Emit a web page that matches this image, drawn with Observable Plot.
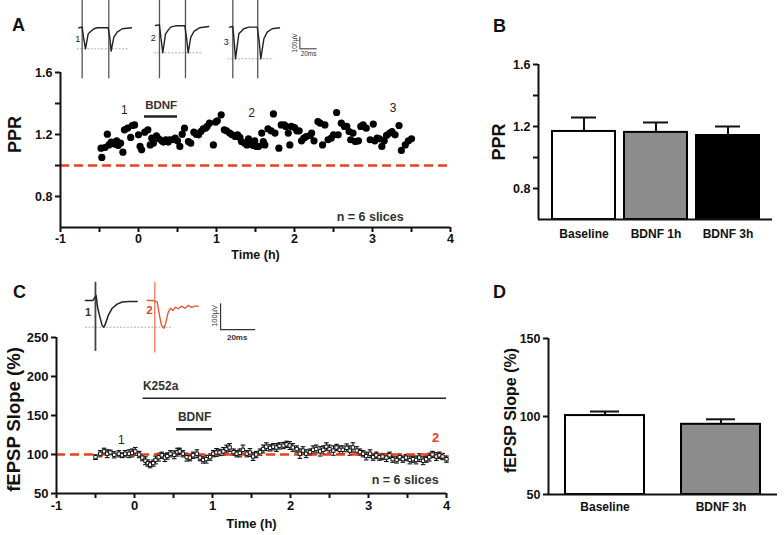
<!DOCTYPE html>
<html><head><meta charset="utf-8">
<script src="https://cdn.jsdelivr.net/npm/d3@7"></script>
<script src="https://cdn.jsdelivr.net/npm/@observablehq/plot@0.6"></script>
<style>
body{margin:0;background:#fff;}
#fig{position:relative;width:784px;height:535px;overflow:hidden;font-family:"Liberation Sans",Arial,sans-serif;}
.panel{position:absolute;}
.letter{position:absolute;font-weight:bold;font-size:18px;line-height:18px;color:#111;}
</style></head><body><div id="fig"></div>
<script>
// ---------- Panel A: PPR over time ----------
const timesA = [-0.48,-0.47,-0.43,-0.40,-0.38,-0.35,-0.31,-0.28,-0.26,-0.23,
 -0.20,-0.18,-0.14,-0.10,-0.08,-0.05,0.00,0.02,0.04,0.08,
 0.12,0.15,0.17,0.19,0.23,0.26,0.30,0.32,0.35,0.38,
 0.40,0.44,0.47,0.50,0.53,0.56,0.59,0.64,0.67,0.71,
 0.74,0.77,0.80,0.83,0.86,0.88,0.91,0.96,0.99,1.01,
 1.06,1.10,1.13,1.17,1.20,1.24,1.27,1.30,1.32,1.36,
 1.39,1.41,1.44,1.47,1.49,1.51,1.54,1.58,1.60,1.62,
 1.66,1.70,1.73,1.75,1.80,1.83,1.87,1.89,1.92,1.94,
 1.96,2.00,2.03,2.06,2.09,2.12,2.15,2.20,2.22,2.25,
 2.30,2.33,2.36,2.39,2.43,2.47,2.50,2.54,2.56,2.60,
 2.64,2.67,2.70,2.72,2.75,2.78,2.82,2.85,2.88,2.92,
 2.97,3.01,3.03,3.06,3.09,3.12,3.15,3.18,3.22,3.25,
 3.29,3.34,3.37,3.42,3.46,3.50];
const pprA = [1.112,1.052,1.116,1.202,1.133,1.151,1.138,1.159,1.129,1.144,
 1.086,1.230,1.241,1.181,1.258,1.262,1.198,1.123,1.101,1.215,
 1.230,1.133,1.176,1.144,1.191,1.172,1.159,1.151,1.166,1.151,
 1.166,1.166,1.176,1.159,1.123,1.202,1.241,1.155,1.144,1.215,
 1.202,1.198,1.219,1.237,1.241,1.252,1.273,1.133,1.280,1.288,
 1.327,1.230,1.224,1.209,1.198,1.187,1.198,1.181,1.155,1.144,
 1.133,1.172,1.138,1.129,1.159,1.123,1.123,1.209,1.155,1.133,
 1.237,1.224,1.333,1.209,1.112,1.262,1.262,1.252,1.209,1.133,
 1.252,1.245,1.224,1.224,1.159,1.176,1.187,1.194,1.209,1.159,
 1.284,1.273,1.133,1.262,1.166,1.176,1.198,1.342,1.198,1.273,
 1.252,1.252,1.219,1.166,1.209,1.155,1.159,1.252,1.262,1.241,
 1.166,1.267,1.159,1.176,1.172,1.123,1.159,1.194,1.209,1.219,
 1.198,1.258,1.097,1.133,1.159,1.172];

// ---------- Panel C: fEPSP slope over time ----------
const timesC = [-0.50,-0.44,-0.39,-0.35,-0.31,-0.26,-0.20,-0.16,-0.12,-0.07,
 -0.03,0.01,0.06,0.10,0.14,0.17,0.20,0.24,0.27,0.31,
 0.35,0.39,0.42,0.46,0.51,0.55,0.58,0.62,0.67,0.71,
 0.75,0.80,0.84,0.88,0.92,0.97,1.01,1.05,1.09,1.14,
 1.18,1.22,1.27,1.31,1.35,1.39,1.44,1.48,1.52,1.56,
 1.61,1.65,1.69,1.74,1.78,1.82,1.86,1.91,1.95,1.99,
 2.03,2.08,2.12,2.16,2.20,2.25,2.29,2.33,2.38,2.42,
 2.46,2.50,2.55,2.59,2.63,2.67,2.72,2.76,2.80,2.85,
 2.89,2.93,2.97,3.02,3.06,3.10,3.14,3.18,3.23,3.27,
 3.31,3.36,3.40,3.44,3.48,3.53,3.57,3.61,3.65,3.70,
 3.74,3.78,3.82,3.87,3.91,3.95,4.00];
const slopeC = [96.6,101,104,101,102.6,99.6,101,99,101,101,
 102,104,100,96,92,89,87,89,93,96.6,
 99,96,98,101,99.6,103,104,101,96.6,96,
 99,101,96,93,94,96.6,101,102.6,102.6,104,
 107,109,103,101,102,106,101,102.6,97.4,100,
 103,107,110,108.5,110,109,111,111.5,113,111.5,
 109,107,101,105,101,103,106,107,104,106,
 110,107,105,109,106,106,108.5,105,109,105,
 103,101,98,101,96.6,99,96.6,97.4,96,99,
 94,93,96.6,94,96,93,94,93,96,92,
 94,96.6,100,97.4,99,97.4,94];
const semC = [3,4,4,5,3,4,4,3,4,5, 5,5,4,4,5,4,4,4,5,5, 4,5,4,4,5,5,4,4,5,4,
 4,5,4,4,5,4,4,5,4,5, 5,5,4,4,5,6,4,5,5,4, 4,5,5,4,4,5,4,4,4,5,
 5,4,6,5,5,4,5,5,6,5, 5,5,6,4,5,5,5,6,6,5, 4,4,5,5,4,4,4,4,5,4,
 4,4,4,4,4,5,4,5,5,5, 4,5,4,5,4,4,4];

// ---------- Panels B and D: bars ----------
const barCatsB = ["Baseline","BDNF 1h","BDNF 3h"];
const barMeansB = [1.168,1.162,1.142];
const barSemB = [0.090,0.064,0.058];
const barCatsD = ["Baseline","BDNF 3h"];
const barMeansD = [100.6,95.0];
const barSemD = [2.6,3.2];

// ---------- Ticks ----------
const timeTicks = [-1,-0.5,0,0.5,1,1.5,2,2.5,3,3.5,4];
const pprTicks = [0.8,1.0,1.2,1.4,1.6];
const pprTickLabels = [0.8,1.2,1.6];
const slopeTicksC = [50,100,150,200,250];
const slopeTicksD = [50,100,150];

// ---------- Inset traces A (ms, µV) ----------
const trA1Ms = [3.7,7.4,8.9,11.1,14.1,20.4,24.1,36.3,38.1,39.6,42.6,46.3,51.9,62.2];
const trA1Uv = [-3,3,-88,-194,-58,-12,-3,-3,-88,-215,-88,-42,-12,-3];
const trA2Ms = [88.9,93.3,94.8,97.0,100.0,105.6,111.1,121.5,123.3,125.2,128.1,131.9,137.8,148.1];
const trA2Uv = [18,24,-88,-230,-58,3,15,15,-88,-230,-88,-33,-3,9];
const trA3Ms = [171.1,174.8,176.3,177.8,181.5,187.0,192.6,202.0,204.1,205.9,209.3,213.0,218.5,226.7];
const trA3Uv = [3,9,-127,-285,-58,-12,3,3,-127,-285,-103,-42,-12,-3];
const artifactsA = [7.4,37.0,93.3,122.2,174.8,202.5];
const peaksA = [-194,-230,-285];
// ---------- Inset traces C ----------
const trC1Ms = [5.7,9.9,11.8,12.6,13.7,15.2,16.2,17.1,18.7,21.0,23.8,26.7,30.5,35.2];
const trC1Uv = [0,0,19,-26,-58,-97,-104,-91,-58,-30,-14,-6,-4,-4];
const trC2Ms = [41.0,44.2,46.7,48.0,49.1,50.5,51.4,53.0,54.3,55.6,57.1,58.7,60.6,62.5,64.4,66.3,68.2,70.1];
const trC2Uv = [0,0,-6,-58,-97,-108,-91,-45,-30,-39,-26,-32,-22,-30,-19,-27,-22,-22];

const FONT = '"Liberation Sans", Arial, Helvetica, sans-serif';
const RED = "#e8401c";
const baseStyle = {fontFamily: FONT, fontSize: "12px", fontWeight: "bold", color: "#111", background: "transparent", overflow: "visible"};
const fmtTime = d => Number.isInteger(d) ? String(d) : "";
const fmtPPR = d => pprTickLabels.includes(d) ? d.toFixed(1) : "";
const zip = (xs, ys) => xs.map((x, i) => ({x, y: ys[i]}));
const fig = document.getElementById("fig");
function place(node, left, top) {
  const d = document.createElement("div");
  d.className = "panel"; d.style.left = left + "px"; d.style.top = top + "px";
  d.appendChild(node); fig.appendChild(d);
}
function letter(t, left, top) {
  const d = document.createElement("div");
  d.className = "letter"; d.textContent = t; d.style.left = left + "px"; d.style.top = top + "px";
  fig.appendChild(d);
}
const capSymbol = {draw(ctx, size) { const r = Math.sqrt(size / Math.PI); ctx.moveTo(-r, 0); ctx.lineTo(r, 0); }};

// ===== Panel A =====
const dataA = timesA.map((t, i) => ({t, v: pprA[i]}));
const plotA = Plot.plot({
  width: 460, height: 265, marginLeft: 60, marginRight: 10, marginTop: 72, marginBottom: 38,
  x: {domain: [-1, 4]}, y: {domain: [0.6, 1.6]}, style: baseStyle,
  marks: [
    Plot.ruleY([1.0], {stroke: RED, strokeWidth: 2.5, strokeDasharray: "9,5"}),
    Plot.axisX({ticks: timeTicks, tickFormat: fmtTime, tickSize: 5, tickPadding: 2, strokeWidth: 2, label: null, fontSize: 12.5}),
    Plot.axisY({ticks: pprTicks, tickFormat: fmtPPR, tickSize: 5, tickPadding: 3, strokeWidth: 2, label: null, fontSize: 12.5}),
    Plot.ruleX([-1], {strokeWidth: 2}),
    Plot.ruleY([0.6], {strokeWidth: 2}),
    Plot.dot(dataA, {x: "t", y: "v", r: 3.6, fill: "#000", stroke: "none"}),
    Plot.ruleY([1.316], {x1: 0.077, x2: 0.5, strokeWidth: 2.5, stroke: "#222"}),
    Plot.text(["BDNF"], {x: 0.29, y: 1.39, text: d => d, fontSize: 11.5, fontWeight: "bold", fill: "#333"}),
    Plot.text(["1"], {x: -0.18, y: 1.36, text: d => d, fontSize: 12, fontWeight: "normal", fill: "#222"}),
    Plot.text(["2"], {x: 1.45, y: 1.34, text: d => d, fontSize: 12, fontWeight: "normal", fill: "#222"}),
    Plot.text(["3"], {x: 3.265, y: 1.37, text: d => d, fontSize: 12, fontWeight: "normal", fill: "#222"}),
    Plot.text(["n = 6 slices"], {x: 2.97, y: 0.665, text: d => d, fontSize: 12.5, fill: "#333"}),
    Plot.text(["Time (h)"], {frameAnchor: "bottom", dy: 31, text: d => d, fontSize: 12.5}),
    Plot.text(["PPR"], {x: -1, y: 1.2, dx: -45, rotate: -90, textAnchor: "middle", text: d => d, fontSize: 18})
  ]
});
place(plotA, 0, 0);

// ===== Inset A =====
const insetA = Plot.plot({
  width: 260, height: 80, margin: 0,
  x: {domain: [0, 288.9], axis: null}, y: {domain: [-482, 245], axis: null},
  style: {...baseStyle, fontWeight: "normal"},
  marks: [
    Plot.ruleY([peaksA[0]], {x1: 1.9, x2: 58.5, stroke: "#999", strokeWidth: 0.8, strokeDasharray: "2,1.5"}),
    Plot.ruleY([peaksA[1]], {x1: 87.8, x2: 141, stroke: "#999", strokeWidth: 0.8, strokeDasharray: "2,1.5"}),
    Plot.ruleY([peaksA[2]], {x1: 169.6, x2: 220.4, stroke: "#999", strokeWidth: 0.8, strokeDasharray: "2,1.5"}),
    Plot.ruleX(artifactsA, {y1: -466, y2: 245, stroke: "#555", strokeWidth: 1.3}),
    Plot.line(zip(trA1Ms, trA1Uv), {x: "x", y: "y", stroke: "#222", strokeWidth: 1.4}),
    Plot.line(zip(trA2Ms, trA2Uv), {x: "x", y: "y", stroke: "#222", strokeWidth: 1.4}),
    Plot.line(zip(trA3Ms, trA3Uv), {x: "x", y: "y", stroke: "#222", strokeWidth: 1.4}),
    Plot.text(["1"], {x: 2.6, y: -103, text: d => d, fontSize: 9, fill: "#222"}),
    Plot.text(["2"], {x: 86.3, y: -94, text: d => d, fontSize: 9, fill: "#222"}),
    Plot.text(["3"], {x: 167.4, y: -133, text: d => d, fontSize: 9, fill: "#222"}),
    Plot.ruleX([249.3], {y1: -194, y2: -88, stroke: "#333", strokeWidth: 1}),
    Plot.ruleY([-194], {x1: 249.3, x2: 268.5, stroke: "#333", strokeWidth: 1}),
    Plot.text(["100µV"], {x: 244, y: -141, rotate: -90, text: d => d, fontSize: 6.5, fill: "#333"}),
    Plot.text(["20ms"], {x: 259, y: -236, text: d => d, fontSize: 6.5, fill: "#333"})
  ]
});
place(insetA, 75, 0);

// ===== Panel B =====
const dataB = barCatsB.map((c, i) => ({c, m: barMeansB[i], e: barSemB[i]}));
const plotB = Plot.plot({
  width: 304, height: 265, marginLeft: 58, marginRight: 12, marginTop: 64, marginBottom: 46,
  x: {domain: barCatsB, paddingInner: 0.13, paddingOuter: 0.17},
  y: {domain: [0.6, 1.6], axis: null},
  color: {domain: barCatsB, range: ["#ffffff", "#8c8c8c", "#000000"]},
  style: baseStyle,
  marks: [
    Plot.ruleX(dataB, {x: "c", y1: "m", y2: d => d.m + d.e, strokeWidth: 2}),
    Plot.tickY(dataB, {x: "c", y: d => d.m + d.e, strokeWidth: 2, insetLeft: 19, insetRight: 19}),
    Plot.barY(dataB, {x: "c", y1: 0.6, y2: "m", fill: "c", stroke: "#000", strokeWidth: 2}),
    Plot.axisX({tickSize: 0, tickPadding: 10, label: null, fontSize: 12}),
    Plot.ruleY([0.6], {strokeWidth: 2})
  ]
});
place(plotB, 480, 0);
// y axis overlay for B (same frame, linear x)
const axisB = Plot.plot({
  width: 304, height: 265, marginLeft: 58, marginRight: 12, marginTop: 64, marginBottom: 46,
  x: {domain: [0, 1], axis: null}, y: {domain: [0.6, 1.6]}, style: baseStyle,
  marks: [
    Plot.ruleX([0], {strokeWidth: 2}),
    Plot.axisY({ticks: pprTicks, tickFormat: fmtPPR, tickSize: 5, tickPadding: 3, strokeWidth: 2, label: null, fontSize: 12.5}),
    Plot.text(["PPR"], {frameAnchor: "left", dx: -39, rotate: -90, textAnchor: "middle", text: d => d, fontSize: 18})
  ]
});
place(axisB, 480, 0);

// ===== Panel C =====
const dataC = timesC.map((t, i) => ({t, v: slopeC[i], e: semC[i]}));
const plotC = Plot.plot({
  width: 460, height: 270, marginLeft: 56, marginRight: 14, marginTop: 72, marginBottom: 42,
  x: {domain: [-1, 4]}, y: {domain: [50, 250]}, style: baseStyle,
  marks: [
    Plot.ruleX(dataC, {x: "t", y1: d => d.v - d.e, y2: d => d.v + d.e, strokeWidth: 1.1, stroke: "#111"}),
    Plot.dot(dataC, {x: "t", y: d => d.v + d.e, symbol: capSymbol, r: 2.3, stroke: "#111", strokeWidth: 1.1, fill: "none"}),
    Plot.dot(dataC, {x: "t", y: d => d.v - d.e, symbol: capSymbol, r: 2.3, stroke: "#111", strokeWidth: 1.1, fill: "none"}),
    Plot.ruleY([100], {stroke: RED, strokeWidth: 2.5, strokeDasharray: "9,5"}),
    Plot.dot(dataC, {x: "t", y: "v", symbol: "square", r: 1.9, stroke: "#111", strokeWidth: 1, fill: "#fff"}),
    Plot.axisX({ticks: timeTicks, tickFormat: fmtTime, tickSize: 5, tickPadding: 2, strokeWidth: 2, label: null, fontSize: 13}),
    Plot.axisY({ticks: slopeTicksC, tickSize: 5, tickPadding: 3, strokeWidth: 2, label: null, fontSize: 13}),
    Plot.ruleX([-1], {strokeWidth: 2}),
    Plot.ruleY([50], {strokeWidth: 2}),
    Plot.ruleY([172], {x1: 0.11, x2: 4, strokeWidth: 1.5, stroke: "#222"}),
    Plot.text(["K252a"], {x: 0.335, y: 188, text: d => d, fontSize: 12, fill: "#333"}),
    Plot.ruleY([132.5], {x1: 0.54, x2: 1.0, strokeWidth: 2.5, stroke: "#222"}),
    Plot.text(["BDNF"], {x: 0.77, y: 148, text: d => d, fontSize: 12, fill: "#333"}),
    Plot.text(["1"], {x: -0.17, y: 119, text: d => d, fontSize: 12, fontWeight: "normal", fill: "#222"}),
    Plot.text(["2"], {x: 3.86, y: 121, text: d => d, fontSize: 13, fill: RED}),
    Plot.text(["n = 6 slices"], {x: 3.47, y: 66.7, text: d => d, fontSize: 12.5, fill: "#333"}),
    Plot.text(["Time (h)"], {frameAnchor: "bottom", dy: 34, text: d => d, fontSize: 13}),
    Plot.text(["fEPSP Slope (%)"], {frameAnchor: "left", dx: -42, dy: 4, rotate: -90, textAnchor: "middle", text: d => d, fontSize: 18.5})
  ]
});
place(plotC, 0, 265);

// ===== Inset C =====
const insetC = Plot.plot({
  width: 190, height: 90, margin: 0,
  x: {domain: [0, 108.57], axis: null}, y: {domain: [-252.9, 97.3], axis: null},
  style: baseStyle,
  marks: [
    Plot.ruleY([-104], {x1: 5.7, x2: 55.2, stroke: "#999", strokeWidth: 0.8, strokeDasharray: "2,1.5"}),
    Plot.ruleX([11.4], {y1: -198, y2: 71, stroke: "#444", strokeWidth: 1.8}),
    Plot.ruleX([45.3], {y1: -204, y2: 71, stroke: "#f08a6a", strokeWidth: 1.5}),
    Plot.line(zip(trC1Ms, trC1Uv), {x: "x", y: "y", stroke: "#222", strokeWidth: 1.5}),
    Plot.line(zip(trC2Ms, trC2Uv), {x: "x", y: "y", stroke: "#e8502a", strokeWidth: 1.3}),
    Plot.text(["1"], {x: 7.2, y: -45, text: d => d, fontSize: 11, fill: "#333"}),
    Plot.text(["2"], {x: 42.3, y: -39, text: d => d, fontSize: 11, fill: RED}),
    Plot.ruleX([82.9], {y1: -113, y2: -13, stroke: "#333", strokeWidth: 1.2}),
    Plot.ruleY([-113], {x1: 82.9, x2: 102.9, stroke: "#333", strokeWidth: 1.2}),
    Plot.text(["100µV"], {x: 79.4, y: -60, rotate: -90, text: d => d, fontSize: 7.5, fontWeight: "normal", fill: "#333"}),
    Plot.text(["20ms"], {x: 92.4, y: -143, text: d => d, fontSize: 8, fill: "#333"})
  ]
});
place(insetC, 75, 275);

// ===== Panel D =====
const dataD = barCatsD.map((c, i) => ({c, m: barMeansD[i], e: barSemD[i]}));
const plotD = Plot.plot({
  width: 304, height: 270, marginLeft: 68, marginRight: 7, marginTop: 73, marginBottom: 41,
  x: {domain: barCatsD, paddingInner: 0.316, paddingOuter: 0.14},
  y: {domain: [50, 150], axis: null},
  color: {domain: barCatsD, range: ["#ffffff", "#8c8c8c"]},
  style: baseStyle,
  marks: [
    Plot.ruleX(dataD, {x: "c", y1: "m", y2: d => d.m + d.e, strokeWidth: 2}),
    Plot.tickY(dataD, {x: "c", y: d => d.m + d.e, strokeWidth: 2, insetLeft: 25, insetRight: 25}),
    Plot.barY(dataD, {x: "c", y1: 50, y2: "m", fill: "c", stroke: "#000", strokeWidth: 2}),
    Plot.axisX({tickSize: 0, tickPadding: 8, label: null, fontSize: 12}),
    Plot.ruleY([50], {strokeWidth: 2})
  ]
});
place(plotD, 480, 265);
const axisD = Plot.plot({
  width: 304, height: 270, marginLeft: 68, marginRight: 7, marginTop: 73, marginBottom: 41,
  x: {domain: [0, 1], axis: null}, y: {domain: [50, 150]}, style: baseStyle,
  marks: [
    Plot.ruleX([0], {strokeWidth: 2}),
    Plot.axisY({ticks: slopeTicksD, tickSize: 5, tickPadding: 3, strokeWidth: 2, label: null, fontSize: 12.5}),
    Plot.text(["fEPSP Slope (%)"], {frameAnchor: "left", dx: -38, dy: -6, rotate: -90, textAnchor: "middle", text: d => d, fontSize: 16})
  ]
});
place(axisD, 480, 265);

letter("A", 12, 16);
letter("B", 493, 17);
letter("C", 13, 283);
letter("D", 493, 283);
</script></body></html>
